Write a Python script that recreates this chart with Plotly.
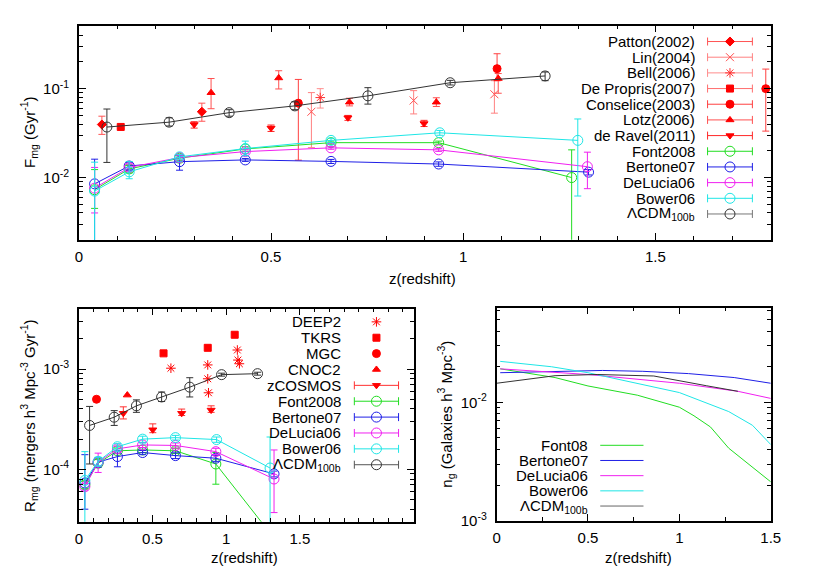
import math
import plotly.graph_objects as go

W, H = 817, 572
FONT = "Liberation Sans, Arial, sans-serif"
FS = 15

# ------------------------------------------------------------------
# DATA  -- top panel: merger fraction rate F_mg (Gyr^-1) vs redshift
# ------------------------------------------------------------------
patton_z = [0.06, 0.32]
patton_f = [0.0395, 0.055]
patton_lo = [0.0306, 0.043]
patton_hi = [0.049, 0.0687]

lin_z = [0.605, 0.871, 1.081]
lin_f = [0.055, 0.0736, 0.0865]
lin_lo = [0.0217, 0.052, 0.053]
lin_hi = [0.0903, 0.095, 0.123]

bell_z = [0.628]
bell_f = [0.0794]
bell_lo = [0.0605]
bell_hi = [0.100]

depropris_z = [0.109]
depropris_f = [0.0371]
depropris_lo = [0.0355]
depropris_hi = [0.0388]

conselice_z = [0.571, 1.088, 1.787]
conselice_f = [0.0687, 0.168, 0.100]
conselice_lo = [0.0157, 0.1227, 0.0333]
conselice_hi = [0.127, 0.247, 0.166]

lotz_z = [0.344, 0.52, 0.704, 0.93, 1.091]
lotz_f = [0.090, 0.132, 0.0705, 0.0705, 0.130]
lotz_lo = [0.0595, 0.0992, 0.064, 0.063, 0.0888]
lotz_hi = [0.130, 0.159, 0.078, 0.079, 0.148]

deravel_z = [0.30, 0.50, 0.70, 0.898]
deravel_f = [0.0395, 0.036, 0.047, 0.0405]
deravel_lo = [0.036, 0.033, 0.044, 0.0375]
deravel_hi = [0.0425, 0.039, 0.050, 0.044]

font_z_top = [0.041, 0.131, 0.262, 0.433, 0.656, 0.936, 1.282]
font_f = [0.0073, 0.0125, 0.0165, 0.0210, 0.0247, 0.0247, 0.0100]
font_f_lo = [0.0045, 0.0113, 0.0155, 0.0198, 0.0237, 0.0237, 0.0001]
font_f_hi = [0.0123, 0.0137, 0.0175, 0.0222, 0.0257, 0.0257, 0.0205]

bert_z_top = [0.041, 0.131, 0.262, 0.433, 0.656, 0.936, 1.326]
bert_f = [0.0085, 0.0135, 0.0151, 0.0158, 0.0152, 0.0142, 0.0115]
bert_f_lo = [0.0010, 0.0122, 0.0121, 0.0152, 0.0144, 0.0134, 0.0107]
bert_f_hi = [0.0161, 0.0148, 0.0179, 0.0164, 0.0160, 0.0150, 0.0123]

delu_z_top = [0.041, 0.131, 0.262, 0.433, 0.656, 0.936, 1.323]
delu_f = [0.0076, 0.0130, 0.0168, 0.0196, 0.0216, 0.0205, 0.01325]
delu_f_lo = [0.0040, 0.0118, 0.0158, 0.0186, 0.0208, 0.0197, 0.0075]
delu_f_hi = [0.0130, 0.0142, 0.0178, 0.0206, 0.0224, 0.0213, 0.0193]

bow_z_top = [0.041, 0.131, 0.262, 0.433, 0.656, 0.939, 1.298]
bow_f = [0.00705, 0.0116, 0.0171, 0.0212, 0.0262, 0.0319, 0.0262]
bow_f_lo = [0.0001, 0.0097, 0.0161, 0.0176, 0.0247, 0.0299, 0.0062]
bow_f_hi = [0.0149, 0.0151, 0.0181, 0.0257, 0.0277, 0.0339, 0.0456]

lcdm_z_top = [0.073, 0.235, 0.391, 0.562, 0.752, 0.966, 1.213]
lcdm_f = [0.037, 0.042, 0.0537, 0.064, 0.083, 0.1166, 0.139]
lcdm_f_lo = [0.0148, 0.038, 0.049, 0.058, 0.067, 0.110, 0.123]
lcdm_f_hi = [0.059, 0.047, 0.058, 0.071, 0.1026, 0.124, 0.154]

# ------------------------------------------------------------------
# DATA  -- bottom-left: merger rate R_mg (mergers h^3 Mpc^-3 Gyr^-1)
# ------------------------------------------------------------------
deep2_z = [0.625, 0.875, 0.875, 0.88, 1.076, 1.08, 1.09]
deep2_r = [1.02e-3, 1.10e-3, 8.0e-4, 5.8e-4, 1.55e-3, 1.23e-3, 1.13e-3]

tkrs_z = [0.575, 0.875, 1.058]
tkrs_r = [1.435e-3, 1.63e-3, 2.2e-3]

mgc_z = [0.12]
mgc_r = [5.0e-4]

cnoc2_z = [0.329]
cnoc2_r = [5.5e-4]

zcosmos_z = [0.302, 0.502, 0.698, 0.898]
zcosmos_r = [3.62e-4, 2.48e-4, 3.62e-4, 3.9e-4]
zcosmos_lo = [3.18e-4, 2.32e-4, 3.44e-4, 3.7e-4]
zcosmos_hi = [4.2e-4, 2.84e-4, 3.99e-4, 4.3e-4]

font_z_bl = [0.041, 0.131, 0.262, 0.433, 0.656, 0.93, 1.28]
font_r = [7.0e-5, 1.15e-4, 1.53e-4, 1.56e-4, 1.53e-4, 1.13e-4, 2.5e-5]
font_r_lo = [6.4e-5, 1.05e-4, 1.43e-4, 1.47e-4, 1.44e-4, 7.1e-5, 2.2e-5]
font_r_hi = [7.6e-5, 1.25e-4, 1.63e-4, 1.65e-4, 1.62e-4, 1.47e-4, 2.8e-5]

bert_z_bl = [0.041, 0.131, 0.262, 0.433, 0.656, 0.93, 1.325]
bert_r = [7.3e-5, 1.18e-4, 1.34e-4, 1.47e-4, 1.37e-4, 1.29e-4, 9.0e-5]
bert_r_lo = [4.0e-5, 1.05e-4, 1.06e-4, 1.40e-4, 1.28e-4, 1.20e-4, 8.4e-5]
bert_r_hi = [1.40e-4, 1.31e-4, 1.53e-4, 1.54e-4, 1.46e-4, 1.38e-4, 9.6e-5]

delu_z_bl = [0.041, 0.131, 0.262, 0.433, 0.656, 0.93, 1.325]
delu_r = [6.7e-5, 1.18e-4, 1.60e-4, 1.75e-4, 1.73e-4, 1.50e-4, 8.0e-5]
delu_r_lo = [6.2e-5, 9.3e-5, 1.50e-4, 1.65e-4, 1.63e-4, 1.40e-4, 3.7e-5]
delu_r_hi = [7.2e-5, 1.45e-4, 1.70e-4, 1.85e-4, 1.83e-4, 1.62e-4, 1.56e-4]

bow_z_bl = [0.041, 0.131, 0.262, 0.433, 0.656, 0.935, 1.298]
bow_r = [7.75e-5, 1.20e-4, 1.68e-4, 2.00e-4, 2.07e-4, 1.98e-4, 1.03e-4]
bow_r_lo = [1.0e-6, 1.08e-4, 1.56e-4, 1.86e-4, 1.96e-4, 1.86e-4, 1.0e-6]
bow_r_hi = [1.50e-4, 1.32e-4, 1.80e-4, 2.14e-4, 2.18e-4, 2.10e-4, 2.10e-4]

lcdm_z_bl = [0.073, 0.24, 0.391, 0.562, 0.753, 0.969, 1.213]
lcdm_r = [2.74e-4, 3.31e-4, 4.3e-4, 5.27e-4, 6.6e-4, 8.8e-4, 9.0e-4]
lcdm_r_lo = [1.13e-4, 2.74e-4, 3.7e-4, 4.75e-4, 5.27e-4, 8.5e-4, 8.7e-4]
lcdm_r_hi = [4.24e-4, 3.85e-4, 4.93e-4, 5.9e-4, 8.2e-4, 9.1e-4, 9.3e-4]

# ------------------------------------------------------------------
# DATA  -- bottom-right: galaxy number density n_g
# ------------------------------------------------------------------
font_z_ng = [0.02, 0.32, 0.5, 0.77, 1.0, 1.08, 1.17, 1.27, 1.5]
font_ng = [0.0192, 0.0162, 0.01376, 0.0115, 0.0091, 0.0077, 0.0062, 0.0041, 0.00213]

bert_z_ng = [0.02, 0.3, 0.58, 0.8, 1.05, 1.3, 1.5]
bert_ng = [0.0178, 0.0182, 0.0186, 0.0183, 0.0175, 0.0162, 0.0145]

delu_z_ng = [0.02, 0.5, 1.0, 1.32, 1.5]
delu_ng = [0.0192, 0.0172, 0.0145, 0.0124, 0.0108]

bow_z_ng = [0.02, 0.3, 0.5, 0.77, 1.0, 1.27, 1.4, 1.5]
bow_ng = [0.0222, 0.0200, 0.0178, 0.0145, 0.0121, 0.00836, 0.0064, 0.0044]

lcdm_z_ng = [0.0, 0.32, 0.55, 0.86, 1.15, 1.32]
lcdm_ng = [0.0145, 0.0168, 0.0172, 0.0167, 0.0138, 0.0124]

# ------------------------------------------------------------------
# Styles
# ------------------------------------------------------------------
RED = "#ff0000"
GREEN = "#22dd22"
BLUE = "#1f1fe6"
MAGENTA = "#f020f0"
CYAN = "#1ee6e6"
BLACK = "#333333"

fig = go.Figure()


def err_series(x, y, lo, hi, color, symbol, size, xa, ya, lines=False,
               errcolor=None, mcolor=None):
    ep = [h - v for h, v in zip(hi, y)]
    em = [v - l for v, l in zip(y, lo)]
    mc = mcolor or color
    fig.add_trace(go.Scatter(
        x=x, y=y, xaxis=xa, yaxis=ya,
        mode="lines+markers" if lines else "markers",
        line=dict(color=color, width=1),
        marker=dict(symbol=symbol, size=size, color=mc,
                    line=dict(color=mc, width=1)),
        error_y=dict(type="data", symmetric=False, array=ep, arrayminus=em,
                     color=errcolor or color, thickness=1, width=3.5),
        showlegend=False, hoverinfo="skip"))


def pts(x, y, color, symbol, size, xa, ya):
    fig.add_trace(go.Scatter(
        x=x, y=y, xaxis=xa, yaxis=ya, mode="markers",
        marker=dict(symbol=symbol, size=size, color=color,
                    line=dict(color=color, width=1)),
        showlegend=False, hoverinfo="skip"))


def curve(x, y, color, xa, ya):
    fig.add_trace(go.Scatter(
        x=x, y=y, xaxis=xa, yaxis=ya, mode="lines",
        line=dict(color=color, width=1), showlegend=False, hoverinfo="skip"))


# ---------------- top panel ----------------
err_series(patton_z, patton_f, patton_lo, patton_hi, RED, "diamond", 7, "x", "y", errcolor="#ff5555")
err_series(lin_z, lin_f, lin_lo, lin_hi, "#ff5050", "x-thin-open", 8, "x", "y", errcolor="#ff8080")
err_series(bell_z, bell_f, bell_lo, bell_hi, "#ff3030", "asterisk-open", 8, "x", "y", errcolor="#ff8c8c")
err_series(depropris_z, depropris_f, depropris_lo, depropris_hi, RED, "square", 7, "x", "y", errcolor="#ff6e6e")
err_series(conselice_z, conselice_f, conselice_lo, conselice_hi, RED, "circle", 8, "x", "y", errcolor="#ff4040")
err_series(lotz_z, lotz_f, lotz_lo, lotz_hi, RED, "triangle-up", 7, "x", "y", errcolor="#ff5050")
err_series(deravel_z, deravel_f, deravel_lo, deravel_hi, RED, "triangle-down", 7, "x", "y", errcolor="#ff2828")

err_series(font_z_top, font_f, font_f_lo, font_f_hi, GREEN, "circle-open", 10, "x", "y", lines=True)
err_series(bert_z_top, bert_f, bert_f_lo, bert_f_hi, BLUE, "circle-open", 10, "x", "y", lines=True)
err_series(delu_z_top, delu_f, delu_f_lo, delu_f_hi, MAGENTA, "circle-open", 10, "x", "y", lines=True)
err_series(bow_z_top, bow_f, bow_f_lo, bow_f_hi, CYAN, "circle-open", 10, "x", "y", lines=True)
err_series(lcdm_z_top, lcdm_f, lcdm_f_lo, lcdm_f_hi, BLACK, "circle-open", 10, "x", "y", lines=True)

# ---------------- bottom-left panel ----------------
pts(deep2_z, deep2_r, RED, "asterisk-open", 8, "x2", "y2")
pts(tkrs_z, tkrs_r, RED, "square", 7, "x2", "y2")
pts(mgc_z, mgc_r, RED, "circle", 8, "x2", "y2")
pts(cnoc2_z, cnoc2_r, RED, "triangle-up", 7, "x2", "y2")
err_series(zcosmos_z, zcosmos_r, zcosmos_lo, zcosmos_hi, RED, "triangle-down", 7, "x2", "y2", errcolor="#ff3030")

err_series(font_z_bl, font_r, font_r_lo, font_r_hi, GREEN, "circle-open", 10, "x2", "y2", lines=True)
err_series(bert_z_bl, bert_r, bert_r_lo, bert_r_hi, BLUE, "circle-open", 10, "x2", "y2", lines=True)
err_series(delu_z_bl, delu_r, delu_r_lo, delu_r_hi, MAGENTA, "circle-open", 10, "x2", "y2", lines=True)
err_series(bow_z_bl, bow_r, bow_r_lo, bow_r_hi, CYAN, "circle-open", 10, "x2", "y2", lines=True)
err_series(lcdm_z_bl, lcdm_r, lcdm_r_lo, lcdm_r_hi, BLACK, "circle-open", 10, "x2", "y2", lines=True)

# ---------------- bottom-right panel ----------------
curve(font_z_ng, font_ng, GREEN, "x3", "y3")
curve(bert_z_ng, bert_ng, BLUE, "x3", "y3")
curve(delu_z_ng, delu_ng, MAGENTA, "x3", "y3")
curve(bow_z_ng, bow_ng, CYAN, "x3", "y3")
curve(lcdm_z_ng, lcdm_ng, BLACK, "x3", "y3")

# ------------------------------------------------------------------
# Manual gnuplot-style keys (text right-aligned, sample to the right)
# drawn on an invisible pixel-space overlay axis (x4 / y4)
# ------------------------------------------------------------------
annotations = []


def key_text(txt, xr, y):
    annotations.append(dict(text=txt, x=xr, y=y, xref="x4", yref="y4",
                            xanchor="right", yanchor="middle", showarrow=False,
                            font=dict(family=FONT, size=FS, color="black")))


def key_err_sample(xc, half, y, color, errcolor, symbol, size):
    fig.add_trace(go.Scatter(
        x=[xc], y=[y], xaxis="x4", yaxis="y4", mode="markers",
        marker=dict(symbol=symbol, size=size, color=color, line=dict(color=color, width=1)),
        error_x=dict(type="constant", value=half, color=errcolor, thickness=1, width=4),
        showlegend=False, hoverinfo="skip", cliponaxis=False))


def key_pt_sample(xc, y, color, symbol, size):
    fig.add_trace(go.Scatter(
        x=[xc], y=[y], xaxis="x4", yaxis="y4", mode="markers",
        marker=dict(symbol=symbol, size=size, color=color, line=dict(color=color, width=1)),
        showlegend=False, hoverinfo="skip", cliponaxis=False))


def key_line_sample(x0, x1, y, color):
    fig.add_trace(go.Scatter(
        x=[x0, x1], y=[y, y], xaxis="x4", yaxis="y4", mode="lines",
        line=dict(color=color, width=1), showlegend=False, hoverinfo="skip",
        cliponaxis=False))


LCDM_LABEL = "\u039bCDM<sub>100b</sub>"

top_keys = [
    ("Patton(2002)", RED, "#ff5555", "diamond", 7),
    ("Lin(2004)", "#ff5050", "#ff8080", "x-thin-open", 8),
    ("Bell(2006)", "#ff3030", "#ff8c8c", "asterisk-open", 8),
    ("De Propris(2007)", RED, "#ff6e6e", "square", 7),
    ("Conselice(2003)", RED, "#ff4040", "circle", 8),
    ("Lotz(2006)", RED, "#ff5050", "triangle-up", 7),
    ("de Ravel(2011)", RED, "#ff2828", "triangle-down", 7),
    ("Font2008", GREEN, GREEN, "circle-open", 10),
    ("Bertone07", BLUE, BLUE, "circle-open", 10),
    ("DeLucia06", MAGENTA, MAGENTA, "circle-open", 10),
    ("Bower06", CYAN, CYAN, "circle-open", 10),
    (LCDM_LABEL, BLACK, "#777777", "circle-open", 10),
]
for i, (t, c, ec, s, sz) in enumerate(top_keys):
    y = 34.0 + 15.9 * i
    key_text(t, 697, y)
    key_err_sample(730.5, 22.8, y, c, ec, s, sz)

bl_keys_pts = [
    ("DEEP2", "asterisk-open", 8),
    ("TKRS", "square", 7),
    ("MGC", "circle", 8),
    ("CNOC2", "triangle-up", 7),
]
bl_keys_err = [
    ("zCOSMOS", RED, "#ff3030", "triangle-down", 7),
    ("Font2008", GREEN, GREEN, "circle-open", 10),
    ("Bertone07", BLUE, BLUE, "circle-open", 10),
    ("DeLucia06", MAGENTA, MAGENTA, "circle-open", 10),
    ("Bower06", CYAN, CYAN, "circle-open", 10),
    (LCDM_LABEL, BLACK, "#555555", "circle-open", 10),
]
row = 0
for t, s, sz in bl_keys_pts:
    y = 318.3 + 16.1 * row
    key_text(t, 337, y)
    key_pt_sample(370.8, y, RED, s, sz)
    row += 1
for t, c, ec, s, sz in bl_keys_err:
    y = 318.3 + 16.1 * row
    key_text(t, 337, y)
    key_err_sample(370.8, 22.5, y, c, ec, s, sz)
    row += 1

br_keys = [
    ("Font08", GREEN),
    ("Bertone07", BLUE),
    ("DeLucia06", MAGENTA),
    ("Bower06", CYAN),
    (LCDM_LABEL, "#666666"),
]
for i, (t, c) in enumerate(br_keys):
    y = 443.5 + 15.4 * i
    key_text(t, 588, y)
    key_line_sample(598.5, 642.5, y, c)

# ------------------------------------------------------------------
# Axis titles
# ------------------------------------------------------------------
def ptxt(txt, px, py, angle=0):
    annotations.append(dict(text=txt, x=px / W, y=1 - py / H, xref="paper", yref="paper",
                            xanchor="center", yanchor="middle", showarrow=False,
                            textangle=angle,
                            font=dict(family=FONT, size=FS, color="black")))


ptxt("z(redshift)", 418, 274)
ptxt("z(redshift)", 237, 557)
ptxt("z(redshift)", 637, 557)
ptxt("F<sub>mg</sub> (Gyr<sup>-1</sup>)", 17, 126, -90)
ptxt("R<sub>mg</sub> (mergers h<sup>3</sup> Mpc<sup>-3</sup> Gyr<sup>-1</sup>)", 17, 413, -90)
ptxt("n<sub>g</sub> (Galaxies h<sup>3</sup> Mpc<sup>-3</sup>)", 441, 412, -90)

# ------------------------------------------------------------------
# Axes
# ------------------------------------------------------------------
tickfont = dict(family=FONT, size=FS, color="black")


def lin_axis(domain, rng, anchor, minor_dt):
    return dict(domain=domain, range=rng, anchor=anchor, showline=True,
                linecolor="black", linewidth=1.5, mirror="allticks",
                ticks="inside", ticklen=7, tickwidth=1, tickcolor="black",
                tickmode="array", tickvals=[0, 0.5, 1, 1.5],
                ticktext=["0", "0.5", "1", "1.5"],
                minor=dict(ticks="inside", ticklen=4, tickwidth=1, tickcolor="black",
                           tick0=0, dtick=minor_dt),
                showgrid=False, zeroline=False, tickfont=tickfont,
                ticklabelstandoff=3)


def log_axis(domain, lo, hi, anchor, decades):
    minors = []
    for e in range(int(math.floor(math.log10(lo))), int(math.ceil(math.log10(hi))) + 1):
        for m in range(2, 10):
            v = m * 10.0 ** e
            if lo < v < hi:
                minors.append(v)
    return dict(domain=domain, type="log", range=[math.log10(lo), math.log10(hi)],
                anchor=anchor, showline=True, linecolor="black", linewidth=1.5,
                mirror="allticks", ticks="inside", ticklen=7, tickwidth=1,
                tickcolor="black", tickmode="array",
                tickvals=[10.0 ** d for d in decades],
                ticktext=["10<sup>%d</sup>" % d for d in decades],
                minor=dict(ticks="inside", ticklen=4, tickwidth=1, tickcolor="black",
                           tickmode="array", tickvals=minors),
                showgrid=False, zeroline=False, tickfont=tickfont,
                ticklabelstandoff=5)


fig.update_layout(
    width=W, height=H, margin=dict(l=0, r=0, t=0, b=0),
    paper_bgcolor="white", plot_bgcolor="rgba(0,0,0,0)",
    font=dict(family=FONT, size=FS, color="black"),
    showlegend=False,
    xaxis=lin_axis([68 / W, 772 / W], [0, 1.8], "y", 0.1),
    yaxis=log_axis([1 - 235 / H, 1 - 18 / H], 0.002, 0.51, "x", [-2, -1]),
    xaxis2=lin_axis([68 / W, 409 / W], [0, 2.275], "y2", 0.1),
    yaxis2=log_axis([1 - 521 / H, 1 - 305 / H], 3.0e-5, 4.0e-3, "x2", [-4, -3]),
    xaxis3=lin_axis([493 / W, 772 / W], [0, 1.5], "y3", 0.25),
    yaxis3=log_axis([1 - 520 / H, 1 - 304 / H], 1.0e-3, 0.063, "x3", [-3, -2]),
    xaxis4=dict(domain=[0, 1], range=[0, W], anchor="y4", visible=False, fixedrange=True),
    yaxis4=dict(domain=[0, 1], range=[H, 0], anchor="x4", visible=False, fixedrange=True),
    annotations=annotations,
)

fig.write_html("out.html")
